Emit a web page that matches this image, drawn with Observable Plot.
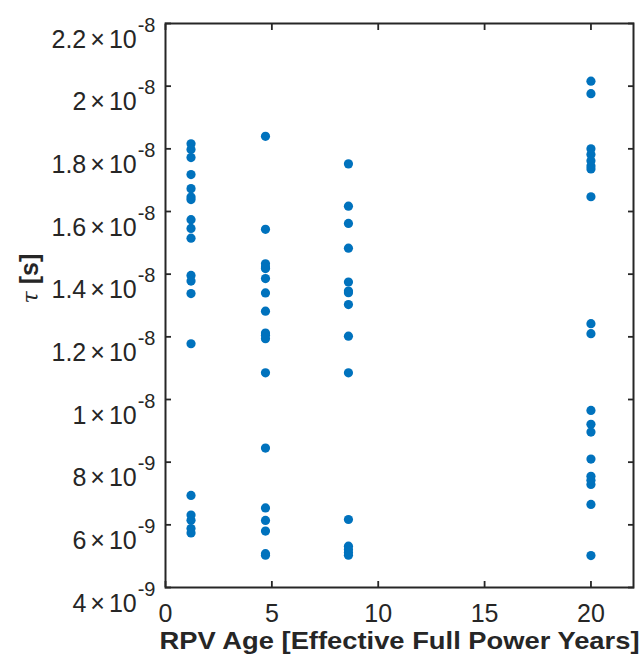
<!DOCTYPE html>
<html>
<head>
<meta charset="utf-8">
<script src="https://cdn.jsdelivr.net/npm/d3@7"></script>
<script src="https://cdn.jsdelivr.net/npm/@observablehq/plot@0.6"></script>
<style>
  html, body { margin: 0; padding: 0; background: #fff; }
  #chart svg { display: block; }
</style>
</head>
<body>
<div id="chart"></div>
<script>
// RPV age (effective full power years) of each group of measurements
const ages = [1.2, 4.7, 8.6, 20];

// tau [s] values per age group
const tauAge1 = [1.816e-8, 1.798e-8, 1.772e-8, 1.718e-8, 1.673e-8, 1.646e-8, 1.638e-8, 1.574e-8, 1.546e-8, 1.515e-8,
                 1.396e-8, 1.378e-8, 1.338e-8, 1.178e-8, 6.94e-9, 6.31e-9, 6.15e-9, 5.88e-9, 5.74e-9];
const tauAge2 = [1.840e-8, 1.543e-8, 1.433e-8, 1.423e-8, 1.418e-8, 1.386e-8, 1.340e-8, 1.282e-8, 1.212e-8, 1.205e-8,
                 1.194e-8, 1.085e-8, 8.45e-9, 6.54e-9, 6.14e-9, 5.80e-9, 5.08e-9, 5.03e-9];
const tauAge3 = [1.752e-8, 1.617e-8, 1.562e-8, 1.483e-8, 1.375e-8, 1.346e-8, 1.341e-8, 1.303e-8, 1.202e-8, 1.085e-8,
                 6.17e-9, 5.32e-9, 5.21e-9, 5.12e-9, 5.03e-9];
const tauAge4 = [2.016e-8, 1.976e-8, 1.800e-8, 1.782e-8, 1.762e-8, 1.745e-8, 1.736e-8, 1.647e-8, 1.242e-8, 1.210e-8,
                 9.65e-9, 9.21e-9, 8.96e-9, 8.10e-9, 7.55e-9, 7.42e-9, 7.29e-9, 6.65e-9, 5.02e-9];

// axis ticks and labels
const xTicks = [0, 5, 10, 15, 20];
const yTicks = [4e-9, 6e-9, 8e-9, 1e-8, 1.2e-8, 1.4e-8, 1.6e-8, 1.8e-8, 2e-8, 2.2e-8];
const yTickMantissa = ["4", "6", "8", "1", "1.2", "1.4", "1.6", "1.8", "2", "2.2"];
const yTickExponent = ["-9", "-9", "-9", "-8", "-8", "-8", "-8", "-8", "-8", "-8"];
const xLabel = "RPV Age [Effective Full Power Years]";
const yLabelSymbol = "τ";
const yLabelUnit = "[s]";
const yLabel = yLabelSymbol + " " + yLabelUnit;

// table for the dot mark
const groups = [tauAge1, tauAge2, tauAge3, tauAge4];
const points = groups.flatMap((vals, i) => vals.map(tau => ({age: ages[i], tau})));

const ink = "#262626";
const blue = "#0072BD";

const chart = Plot.plot({
  width: 644,
  height: 660,
  marginLeft: 165,
  marginRight: 11,
  marginTop: 23,
  marginBottom: 73,
  style: {fontFamily: "'Liberation Sans', Arial, Helvetica, sans-serif", fontSize: "25px", color: ink, background: "#fff"},
  x: {domain: [0, 22]},
  y: {domain: [4e-9, 2.2e-8]},
  marks: [
    Plot.dot(points, {x: "age", y: "tau", r: 4.6, fill: blue, stroke: "none"}),
    Plot.axisX(xTicks, {anchor: "bottom", tickSize: -6, tickPadding: 23, strokeWidth: 1.8, stroke: ink, fill: ink, label: null}),
    Plot.axisX(xTicks, {anchor: "top", tickSize: -6, strokeWidth: 1.8, stroke: ink, tickFormat: () => "", label: null}),
    Plot.axisY(yTicks, {anchor: "left", tickSize: -6, tickPadding: 16, strokeWidth: 1.8, stroke: ink, fill: ink, label: null,
      tickFormat: d => { const i = yTicks.indexOf(d); return yTickMantissa[i] + "|" + yTickExponent[i]; }}),
    Plot.axisY(yTicks, {anchor: "right", tickSize: -6, strokeWidth: 1.8, stroke: ink, tickFormat: () => "", label: null}),
    Plot.frame({stroke: ink, strokeWidth: 2}),
    Plot.text([xLabel], {frameAnchor: "bottom", dy: 61, text: d => d, fontWeight: "bold", fontSize: 24, fill: ink}),
    Plot.text([yLabel], {frameAnchor: "left", dx: -136, dy: -2, rotate: -90, text: d => d, fontWeight: "bold", fontSize: 25, fill: ink})
  ]
});

document.getElementById("chart").appendChild(chart);

const svgNS = "http://www.w3.org/2000/svg";

// drop the empty label texts of the mirrored (top/right) tick axes
chart.querySelectorAll('g[aria-label$="tick label"] text').forEach(t => {
  if (t.textContent === "") t.remove();
});

// typeset y tick labels as  m×10^e
chart.querySelectorAll('g[aria-label="y-axis tick label"] text').forEach(t => {
  const [m, e] = t.textContent.split("|");
  t.textContent = "";
  t.setAttribute("dy", "16");
  const mk = (s, attrs) => { const ts = document.createElementNS(svgNS, "tspan"); ts.textContent = s; for (const k in attrs) ts.setAttribute(k, attrs[k]); t.appendChild(ts); return ts; };
  mk(m, {});
  mk("×", {dx: "4"});
  mk("10", {dx: "4"});
  mk(e, {dx: "1", dy: "-16", "font-size": "20"});
});

chart.querySelectorAll("text").forEach(t => {
  if (t.textContent === xLabel) {
    // x label stretched to the reference's width
    t.setAttribute("textLength", "480");
    t.setAttribute("lengthAdjust", "spacingAndGlyphs");
  } else if (t.textContent === yLabel) {
    // y label: italic tau + bold unit
    t.textContent = "";
    const a = document.createElementNS(svgNS, "tspan");
    a.textContent = yLabelSymbol + " ";
    a.setAttribute("font-style", "italic");
    a.setAttribute("font-weight", "normal");
    a.setAttribute("font-family", "'DejaVu Serif', serif");
    a.setAttribute("font-size", "22");
    t.appendChild(a);
    const b = document.createElementNS(svgNS, "tspan");
    b.textContent = yLabelUnit;
    t.appendChild(b);
  }
});
</script>
</body>
</html>
